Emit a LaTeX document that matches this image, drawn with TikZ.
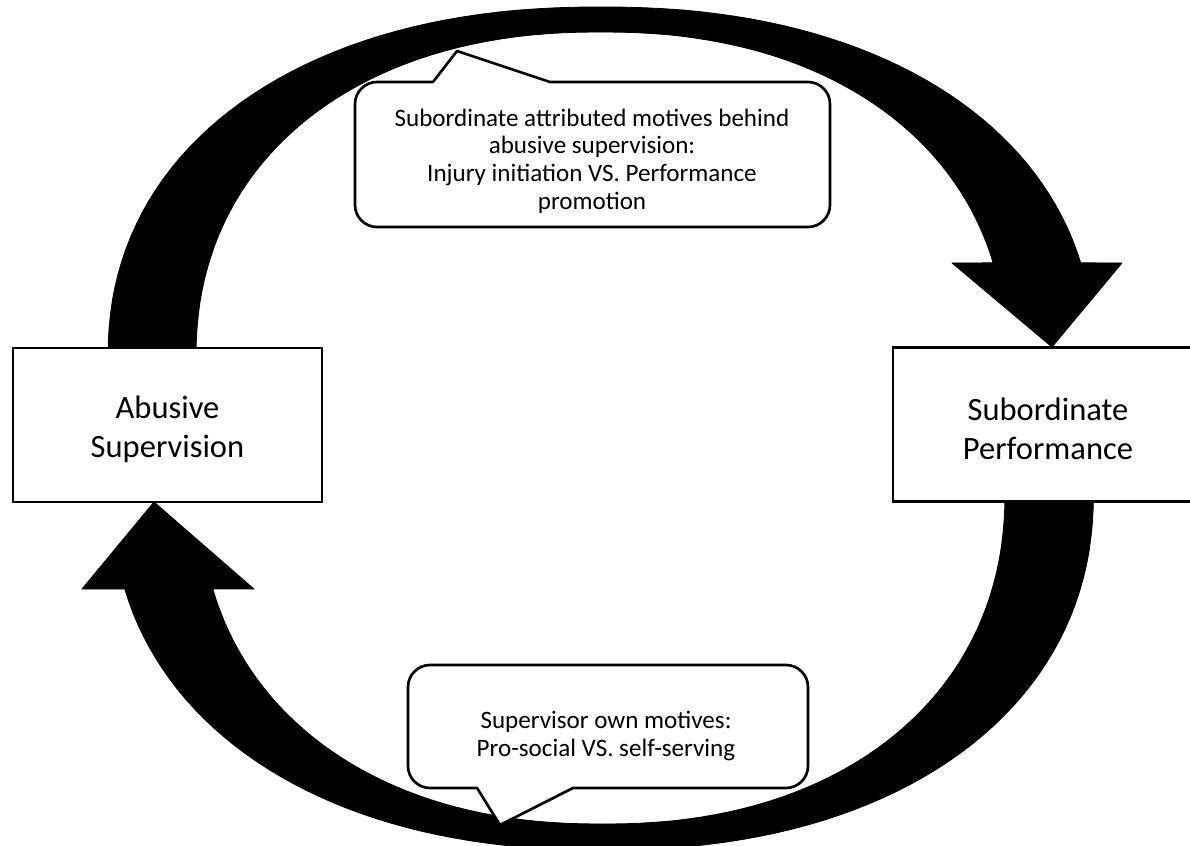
\documentclass[tikz,border=0pt]{standalone}
\usepackage{fontspec}
\setmainfont{Carlito}
\begin{document}
\begin{tikzpicture}[x=0.75pt,y=-0.75pt,
  band/.style={fill=black, draw=black, line width=0.6pt, line join=round},
  boxnode/.style={draw=black, fill=white, line width=2.2pt, minimum width=231.75pt, minimum height=115.5pt, inner sep=0pt},
  boxtext/.style={align=center, inner sep=0pt, font=\fontsize{24.4}{29.2}\selectfont},
  callout/.style={draw=black, fill=white, line width=2pt, line join=round},
  callouttext/.style={align=center, inner sep=0pt, font=\fontsize{18.8}{20.8}\selectfont}]
\useasboundingbox (0,0) rectangle (1190,846);
\clip (0,0) rectangle (1190,846);
\fill[white] (0,0) rectangle (1190,846);
\def\se{0.90909}
% top curved arrow (Abusive Supervision -> Subordinate Performance)
\path[band] plot[domain=180:270,samples=45] ({601-493*pow(abs(cos(\x))+0.00001,\se)},{360-353*pow(abs(sin(\x))+0.00001,\se)})
 -- plot[domain=270:346,samples=40] ({601+493*pow(abs(cos(\x))+0.00001,\se)},{360-353*pow(abs(sin(\x))+0.00001,\se)})
 -- (1122,263) -- (1052,347) -- (952,263)
 -- plot[domain=344.8:270,samples=40] ({601+405*pow(abs(cos(\x))+0.00001,\se)},{360-328*pow(abs(sin(\x))+0.00001,\se)})
 -- plot[domain=270:180,samples=45] ({601-405*pow(abs(cos(\x))+0.00001,\se)},{360-328*pow(abs(sin(\x))+0.00001,\se)})
 -- cycle;
% bottom curved arrow (Subordinate Performance -> Abusive Supervision)
\path[band] plot[domain=0:90,samples=45] ({602.5+491*pow(abs(cos(\x))+0.00001,\se)},{490+360*pow(abs(sin(\x))+0.00001,\se)})
 -- plot[domain=90:166,samples=40] ({602.5-491*pow(abs(cos(\x))+0.00001,\se)},{490+360*pow(abs(sin(\x))+0.00001,\se)})
 -- (82,589) -- (154,502) -- (254,589)
 -- plot[domain=164.8:90,samples=40] ({602.5-402.5*pow(abs(cos(\x))+0.00001,\se)},{490+334*pow(abs(sin(\x))+0.00001,\se)})
 -- plot[domain=90:0,samples=45] ({602.5+402.5*pow(abs(cos(\x))+0.00001,\se)},{490+334*pow(abs(sin(\x))+0.00001,\se)})
 -- cycle;
% boxes
\node[boxnode] (abuse) at (167.5,425) {};
\node[boxtext] (abuseT) at (167.5,429) {Abusive\\Supervision};
\node[boxnode] (perf) at (1047.5,424.5) {};
\node[boxtext] (perfT) at (1048,428.5) {Subordinate\\Performance};
% callouts
\draw[callout] (355,104) .. controls (355,91.9) and (364.9,82) .. (377,82) -- (433,82) -- (457,51) -- (550,82) -- (808,82)
 .. controls (820.1,82) and (830,91.9) .. (830,104) -- (830,205) .. controls (830,217.1) and (820.1,227) .. (808,227)
 -- (377,227) .. controls (364.9,227) and (355,217.1) .. (355,205) -- cycle;
\node[callouttext] (attrib) at (592,161) {Subordinate attributed motives behind\\abusive supervision:\\Injury initiation VS. Performance\\promotion};
\draw[callout] (408,687) .. controls (408,674.9) and (417.9,665) .. (430,665) -- (786,665) .. controls (798.1,665) and (808,674.9) .. (808,687)
 -- (808,766) .. controls (808,778.1) and (798.1,788) .. (786,788) -- (573,788) -- (500,825) -- (477,788) -- (430,788)
 .. controls (417.9,788) and (408,778.1) .. (408,766) -- cycle;
\node[callouttext] (own) at (606,736) {Supervisor own motives:\\Pro-social VS. self-serving};
\end{tikzpicture}
\end{document}
